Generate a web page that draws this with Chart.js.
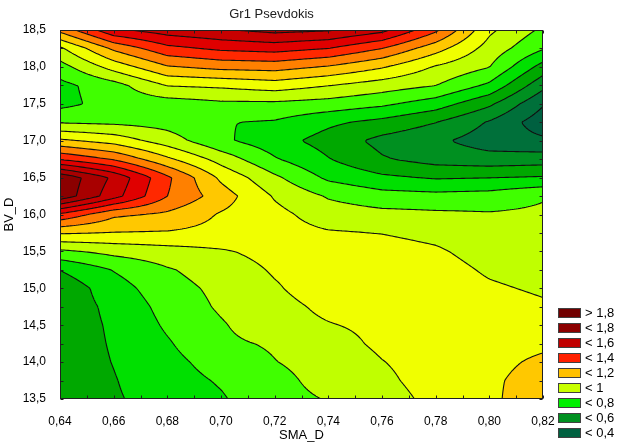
<!DOCTYPE html>
<html>
<head>
<meta charset="utf-8">
<title>Gr1 Psevdokis</title>
<script src="https://cdn.jsdelivr.net/npm/chart.js@4.4.0/dist/chart.umd.min.js"></script>
<style>
  html, body { margin: 0; padding: 0; background: #fff; }
  #wrap { width: 624px; height: 445px; }
</style>
</head>
<body>
<div id="wrap"><canvas id="contourChart"></canvas></div>
<script>
// grid nodes
const smaValues = [0.64, 0.66, 0.68, 0.70, 0.72, 0.74, 0.76, 0.78, 0.80, 0.82];
const bvValues = [13.5, 13.75, 14.0, 14.25, 14.5, 14.75, 15.0, 15.25, 15.5, 15.75, 16.0,
                  16.25, 16.5, 16.75, 17.0, 17.25, 17.5, 17.75, 18.0, 18.25, 18.5];

// z for each SMA_D column, from BV_D = 13,5 (first) up to 18,5 (last)
const z064 = [0.64, 0.64, 0.645, 0.645, 0.645, 0.64, 0.63, 0.702, 0.88, 1.11, 1.38, 1.77, 1.78, 1.39, 1.12, 0.89, 0.77, 0.77, 0.86, 0.98, 1.23];
const z066 = [0.69, 0.695, 0.703, 0.709, 0.714, 0.725, 0.755, 0.805, 0.93, 1.095, 1.22, 1.54, 1.58, 1.29, 1.06, 0.88, 0.84, 0.86, 1.04, 1.22, 1.48];
const z068 = [0.738, 0.757, 0.77, 0.79, 0.814, 0.835, 0.86, 0.89, 0.96, 1.09, 1.18, 1.30, 1.32, 1.12, 0.95, 0.86, 0.85, 1.005, 1.19, 1.37, 1.55];
const z070 = [0.79, 0.81, 0.841, 0.88, 0.89, 0.914, 0.925, 0.95, 0.99, 1.07, 1.09, 1.15, 1.08, 0.96, 0.82, 0.805, 0.88, 1.02, 1.23, 1.42, 1.59];
const z072 = [0.867, 0.87, 0.897, 0.912, 0.965, 0.97, 0.99, 1.01, 1.03, 1.04, 1.03, 0.99, 0.92, 0.81, 0.74, 0.79, 0.88, 1.05, 1.24, 1.44, 1.63];
const z074 = [0.905, 0.935, 0.94, 0.965, 0.995, 1.02, 1.05, 1.04, 1.04, 1.01, 0.95, 0.89, 0.78, 0.705, 0.66, 0.72, 0.86, 1.003, 1.19, 1.40, 1.61];
const z076 = [0.96, 0.98, 0.997, 1.017, 1.02, 1.04, 1.05, 1.04, 1.03, 0.998, 0.93, 0.84, 0.72, 0.61, 0.57, 0.67, 0.82, 0.95, 1.11, 1.30, 1.53];
const z078 = [1.026, 1.039, 1.04, 1.04, 1.04, 1.04, 1.04, 1.03, 1.01, 0.98, 0.92, 0.83, 0.69, 0.56, 0.52, 0.602, 0.75, 0.902, 0.99, 1.14, 1.32];
const z080 = [1.075, 1.08, 1.07, 1.06, 1.05, 1.03, 1.01, 0.99, 0.97, 0.95, 0.91, 0.84, 0.698, 0.54, 0.45, 0.49, 0.62, 0.78, 0.903, 0.96, 1.02];
const z082 = [1.18, 1.15, 1.12, 1.08, 1.04, 1.01, 0.99, 0.97, 0.96, 0.94, 0.92, 0.89, 0.71, 0.55, 0.42, 0.34, 0.41, 0.53, 0.66, 0.81, 0.88];
const zColumns = [z064, z066, z068, z070, z072, z074, z076, z078, z080, z082];

const contourLevels = [0.4, 0.5, 0.6, 0.7, 0.8, 0.9, 1.0, 1.1, 1.2, 1.3, 1.4, 1.5, 1.6, 1.7, 1.8];
const bandColors = ['#006040', '#00703a', '#009020', '#00a800', '#00e000', '#40ff00', '#c0ff00', '#f0ff00',
                    '#ffc800', '#ff8000', '#ff2800', '#e00000', '#c80000', '#a80000', '#8b0000', '#700000'];

const legendLabels = ['> 1,8', '< 1,8', '< 1,6', '< 1,4', '< 1,2', '< 1', '< 0,8', '< 0,6', '< 0,4'];
const legendColors = ['#700000', '#8b0000', '#c00000', '#ff2000', '#ffc000', '#c8ff00', '#00f000', '#009020', '#006040'];

const FONT = "'Liberation Sans', Arial, sans-serif";

function zAt(sma, bv) {
  let i = 0;
  while (i < smaValues.length - 2 && sma > smaValues[i + 1]) i++;
  let j = 0;
  while (j < bvValues.length - 2 && bv > bvValues[j + 1]) j++;
  const tx = Math.min(1, Math.max(0, (sma - smaValues[i]) / (smaValues[i + 1] - smaValues[i])));
  const ty = Math.min(1, Math.max(0, (bv - bvValues[j]) / (bvValues[j + 1] - bvValues[j])));
  const c0 = zColumns[i], c1 = zColumns[i + 1];
  const a = c0[j] + (c1[j] - c0[j]) * tx;
  const b = c0[j + 1] + (c1[j + 1] - c0[j + 1]) * tx;
  return a + (b - a) * ty;
}

function bandOf(z) {
  let k = 0;
  while (k < contourLevels.length && z >= contourLevels[k]) k++;
  return k;
}

function hexToRgb(h) {
  const n = parseInt(h.slice(1), 16);
  return [n >> 16, (n >> 8) & 255, n & 255];
}

const contourPlugin = {
  id: 'contourPlot',
  beforeDatasetsDraw(chart) {
    const { ctx, chartArea: a, scales: { x, y } } = chart;
    const left = Math.round(a.left), top = Math.round(a.top);
    const w = Math.round(a.right) - left, h = Math.round(a.bottom) - top;
    const rgb = bandColors.map(hexToRgb);

    // filled bands
    const img = ctx.createImageData(w, h);
    for (let py = 0; py < h; py++) {
      const bv = y.getValueForPixel(top + py + 0.5);
      for (let px = 0; px < w; px++) {
        const z = zAt(x.getValueForPixel(left + px + 0.5), bv);
        const c = rgb[bandOf(z)];
        const o = (py * w + px) * 4;
        img.data[o] = c[0]; img.data[o + 1] = c[1]; img.data[o + 2] = c[2]; img.data[o + 3] = 255;
      }
    }
    ctx.putImageData(img, left, top);

    // contour lines (marching squares)
    const step = 2;
    const nx = Math.ceil(w / step) + 1, ny = Math.ceil(h / step) + 1;
    const gx = i => Math.min(left + i * step, left + w);
    const gy = j => Math.min(top + j * step, top + h);
    const field = [];
    for (let j = 0; j < ny; j++) {
      const row = [];
      const bv = y.getValueForPixel(gy(j));
      for (let i = 0; i < nx; i++) row.push(zAt(x.getValueForPixel(gx(i)), bv));
      field.push(row);
    }
    ctx.save();
    ctx.beginPath();
    ctx.rect(left, top, w, h);
    ctx.clip();
    ctx.strokeStyle = '#101010';
    ctx.lineWidth = 1.1;
    ctx.lineJoin = 'round';
    contourLevels.forEach(level => {
      ctx.beginPath();
      for (let j = 0; j < ny - 1; j++) {
        for (let i = 0; i < nx - 1; i++) {
          const c = [
            [gx(i), gy(j), field[j][i]],
            [gx(i + 1), gy(j), field[j][i + 1]],
            [gx(i + 1), gy(j + 1), field[j + 1][i + 1]],
            [gx(i), gy(j + 1), field[j + 1][i]]
          ];
          const pts = [];
          for (let e = 0; e < 4; e++) {
            const p = c[e], q = c[(e + 1) % 4];
            if ((p[2] < level) !== (q[2] < level)) {
              const t = (level - p[2]) / (q[2] - p[2]);
              pts.push([p[0] + (q[0] - p[0]) * t, p[1] + (q[1] - p[1]) * t]);
            }
          }
          for (let k = 0; k + 1 < pts.length; k += 2) {
            ctx.moveTo(pts[k][0], pts[k][1]);
            ctx.lineTo(pts[k + 1][0], pts[k + 1][1]);
          }
        }
      }
      ctx.stroke();
    });
    ctx.restore();
  },
  afterDraw(chart) {
    const { ctx, chartArea: a, scales: { x, y } } = chart;
    const left = Math.round(a.left) + 0.5, top = Math.round(a.top) + 0.5;
    const right = Math.round(a.right) - 0.5, bottom = Math.round(a.bottom) - 0.5;
    ctx.save();
    ctx.strokeStyle = '#202020';
    ctx.lineWidth = 1;
    ctx.strokeRect(left, top, right - left, bottom - top);

    // small inward ticks
    ctx.beginPath();
    for (let v = 0.64; v <= 0.8201; v += 0.01) {
      const px = Math.round(x.getPixelForValue(v)) + 0.5;
      ctx.moveTo(px, top); ctx.lineTo(px, top + 3);
      ctx.moveTo(px, bottom); ctx.lineTo(px, bottom - 3);
    }
    for (let v = 13.5; v <= 18.501; v += 0.25) {
      const py = Math.round(y.getPixelForValue(v)) + 0.5;
      ctx.moveTo(left, py); ctx.lineTo(left + 3, py);
      ctx.moveTo(right, py); ctx.lineTo(right - 3, py);
    }
    ctx.stroke();

    // legend
    ctx.font = '13px ' + FONT;
    ctx.textBaseline = 'middle';
    ctx.textAlign = 'left';
    legendLabels.forEach((label, k) => {
      const by = 308 + k * 15;
      ctx.fillStyle = legendColors[k];
      ctx.fillRect(558, by, 23, 10);
      ctx.strokeStyle = '#404040';
      ctx.strokeRect(558.5, by + 0.5, 22, 9);
      ctx.fillStyle = '#000';
      ctx.fillText(label, 585, by + 5.5);
    });
    ctx.restore();
  }
};

document.addEventListener('DOMContentLoaded', function () {
  const ctx = document.getElementById('contourChart').getContext('2d');

  const nodes = [];
  smaValues.forEach((s, i) => bvValues.forEach((b, j) => nodes.push({ x: s, y: b, z: zColumns[i][j] })));

  const config = {
    type: 'scatter',
    data: {
      datasets: [{
        label: 'Gr1 Psevdokis',
        data: nodes,
        pointRadius: 0,
        pointHoverRadius: 0,
        showLine: false
      }]
    },
    options: {
      responsive: true,
      maintainAspectRatio: false,
      devicePixelRatio: 1,
      animation: false,
      events: [],
      layout: { padding: { left: 0, right: 81, top: 0, bottom: 0 } },
      scales: {
        x: {
          type: 'linear',
          min: 0.64,
          max: 0.82,
          grid: { display: false },
          border: { display: false },
          ticks: {
            stepSize: 0.02,
            padding: 7,
            color: '#000',
            font: { family: FONT, size: 12 },
            maxRotation: 0,
            callback: v => v.toFixed(2).replace('.', ',')
          },
          title: {
            display: true,
            text: 'SMA_D',
            color: '#000',
            font: { family: FONT, size: 13 },
            padding: { top: 0, bottom: 2 }
          },
          afterFit: scale => { scale.height = 46; }
        },
        y: {
          type: 'linear',
          min: 13.5,
          max: 18.5,
          grid: { display: false },
          border: { display: false },
          ticks: {
            stepSize: 0.5,
            padding: 6,
            color: '#000',
            font: { family: FONT, size: 12 },
            callback: v => v.toFixed(1).replace('.', ',')
          },
          title: {
            display: true,
            text: 'BV_D',
            color: '#000',
            font: { family: FONT, size: 13 },
            padding: { top: 2, bottom: 0 }
          },
          afterFit: scale => { scale.width = 60; }
        }
      },
      plugins: {
        legend: { display: false },
        tooltip: { enabled: false },
        title: {
          display: true,
          text: 'Gr1 Psevdokis',
          color: '#202020',
          font: { family: FONT, size: 13, weight: 'normal' },
          padding: { top: 7, bottom: 7.4 }
        }
      }
    },
    plugins: [contourPlugin]
  };

  new Chart(ctx, config);
});
</script>
</body>
</html>
